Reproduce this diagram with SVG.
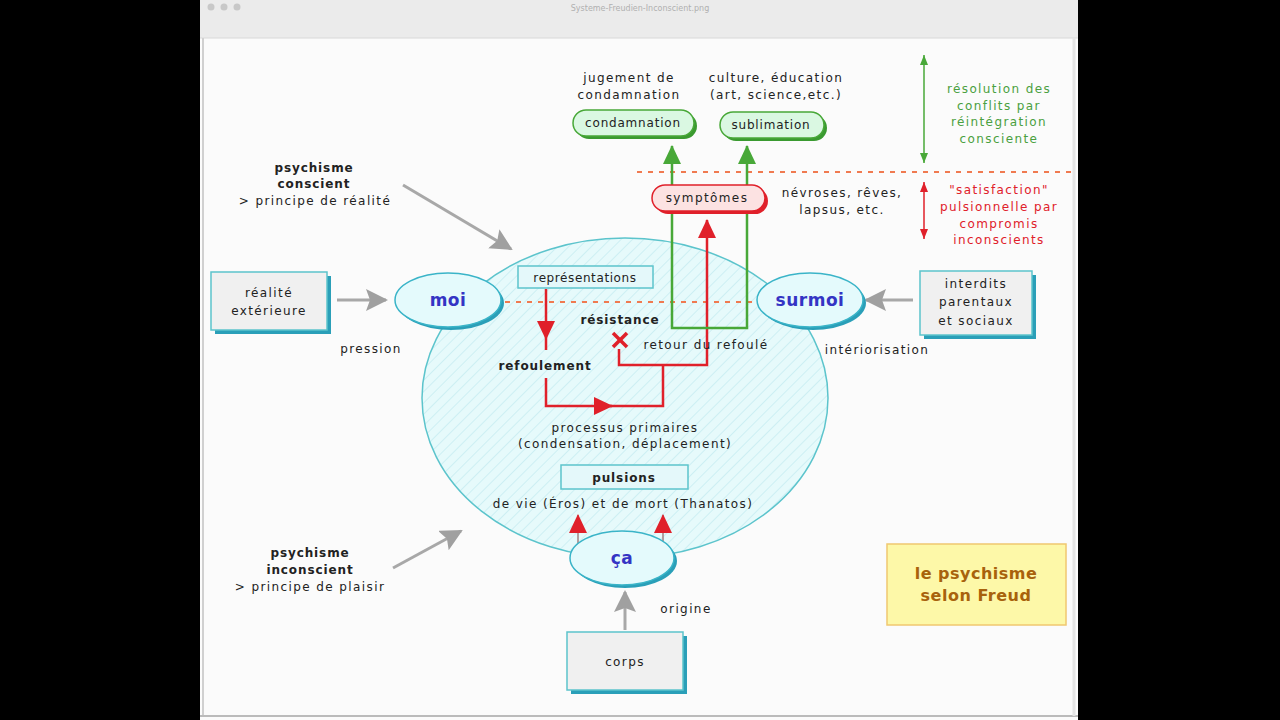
<svg xmlns="http://www.w3.org/2000/svg" width="1280" height="720" viewBox="0 0 1280 720">
<style>
text{font-family:"DejaVu Sans","Liberation Sans",sans-serif;font-size:12px;fill:#222;text-anchor:middle;letter-spacing:1.4px}
.b{font-weight:bold;letter-spacing:0.9px}
.big{font-weight:bold;font-size:17px;fill:#3434c4;letter-spacing:0.5px}
.g{fill:#4aa040}
.r{fill:#e0202a}
.box{fill:#f0f0f0;stroke:#5cc4cc;stroke-width:1.5}
.sh{fill:#2a9fb8}
.oval{fill:#e4fafc;stroke:#3ab4c8;stroke-width:1.5}
.lbl{fill:#e4f8fa;stroke:#5cc4cc;stroke-width:1.5}
.gray{stroke:#a8a8a8;stroke-width:3;fill:none}
.red{stroke:#e0202a;stroke-width:2.5;fill:none}
.grn{stroke:#48a838;stroke-width:2.5;fill:none}
.dash{stroke:#f07a50;stroke-width:2;stroke-dasharray:5 6;fill:none}
</style>
<defs>
<pattern id="hatch" width="8" height="8" patternUnits="userSpaceOnUse" patternTransform="rotate(45)">
<rect width="8" height="8" fill="#e6fafb"/>
<line x1="0" y1="0" x2="0" y2="8" stroke="#cdeff3" stroke-width="2"/>
</pattern>
<marker id="ag" markerUnits="userSpaceOnUse" markerWidth="24" markerHeight="24" refX="20" refY="11" orient="auto">
<path d="M0,0 L22,11 L0,22 L4,11 z" fill="#a0a0a0"/>
</marker>
<marker id="ar" markerUnits="userSpaceOnUse" markerWidth="22" markerHeight="20" refX="18" refY="9" orient="auto">
<path d="M0,0 L19,9 L0,18 z" fill="#e0202a"/>
</marker>
<marker id="agr" markerUnits="userSpaceOnUse" markerWidth="22" markerHeight="20" refX="18" refY="9" orient="auto-start-reverse">
<path d="M0,0 L19,9 L0,18 z" fill="#48a838"/>
</marker>
<marker id="sg" markerUnits="userSpaceOnUse" markerWidth="12" markerHeight="10" refX="10" refY="4" orient="auto-start-reverse">
<path d="M0,0 L10,4 L0,8 z" fill="#48a838"/>
</marker>
<marker id="sr" markerUnits="userSpaceOnUse" markerWidth="12" markerHeight="10" refX="10" refY="4" orient="auto-start-reverse">
<path d="M0,0 L10,4 L0,8 z" fill="#e0202a"/>
</marker>
</defs>

<rect width="1280" height="720" fill="#000"/>
<g id="window">
<rect x="200" y="0" width="878" height="720" fill="#fbfbfb"/>
<rect x="200" y="0" width="878" height="38" fill="#ebebeb"/>
<line x1="200" y1="38" x2="1078" y2="38" stroke="#d8d8d8"/>
<circle cx="211" cy="7" r="3.5" fill="#c8c8c8"/>
<circle cx="224" cy="7" r="3.5" fill="#c8c8c8"/>
<circle cx="237" cy="7" r="3.5" fill="#c8c8c8"/>
<text x="640" y="11" style="font-size:8px;fill:#b0b0b0;letter-spacing:0">Systeme-Freudien-Inconscient.png</text>
<line x1="203" y1="38" x2="203" y2="716" stroke="#d0d0d0" stroke-width="2"/>
<line x1="200" y1="716" x2="1078" y2="716" stroke="#bbb" stroke-width="2"/>
<line x1="1074" y1="38" x2="1074" y2="716" stroke="#e4e4e4" stroke-width="3"/>
</g>

<g id="psyche">
<ellipse cx="625" cy="398" rx="203" ry="160" fill="url(#hatch)" stroke="#5cc4cc" stroke-width="1.5"/>
</g>

<g id="connectors">
<line class="dash" x1="505" y1="302" x2="762" y2="302"/>
<line class="dash" x1="637" y1="172" x2="1072" y2="172"/>
<line class="gray" x1="337" y1="300" x2="386" y2="300" marker-end="url(#ag)"/>
<line class="gray" x1="913" y1="300" x2="866" y2="300" marker-end="url(#ag)"/>
<line class="gray" x1="625" y1="630" x2="625" y2="592" marker-end="url(#ag)"/>
<line class="gray" x1="403" y1="185" x2="511" y2="249" stroke-width="2" marker-end="url(#ag)"/>
<line class="gray" x1="393" y1="568" x2="461" y2="531" stroke-width="2" marker-end="url(#ag)"/>
<path class="red" d="M546,289 L546,339 L546,350" marker-mid="url(#ar)"/>
<path class="red" d="M546,378 V406 H612" marker-end="url(#ar)"/>
<path class="red" d="M610,406 H663 V365"/>
<path class="red" d="M619,349 V365 H707 V220" marker-end="url(#ar)"/>
<g stroke="#e0202a" stroke-width="3.5">
<line x1="613" y1="333" x2="627" y2="347"/>
<line x1="627" y1="333" x2="613" y2="347"/>
</g>
<path class="grn" d="M672,146 V328 H747 V146" marker-start="url(#agr)" marker-end="url(#agr)"/>
<line x1="924" y1="55" x2="924" y2="163" stroke="#48a838" stroke-width="1.5" marker-start="url(#sg)" marker-end="url(#sg)"/>
<line x1="924" y1="182" x2="924" y2="239" stroke="#e0202a" stroke-width="1.5" marker-start="url(#sr)" marker-end="url(#sr)"/>
<line x1="578" y1="550" x2="578" y2="515" stroke="#a08080" stroke-width="1.5" marker-end="url(#ar)"/>
<line x1="663" y1="550" x2="663" y2="515" stroke="#a08080" stroke-width="1.5" marker-end="url(#ar)"/>
</g>

<g id="moi">
<ellipse cx="451" cy="303" rx="53" ry="27" class="sh"/>
<ellipse cx="448" cy="300" rx="53" ry="27" class="oval"/>
<text x="448" y="306" class="big">moi</text>
</g>
<g id="surmoi">
<ellipse cx="813" cy="303" rx="53" ry="27" class="sh"/>
<ellipse cx="810" cy="300" rx="53" ry="27" class="oval"/>
<text x="810" y="306" class="big">surmoi</text>
</g>
<g id="ca">
<ellipse cx="625" cy="561" rx="52" ry="27" class="sh"/>
<ellipse cx="622" cy="558" rx="52" ry="27" class="oval"/>
<text x="622" y="564" class="big">ça</text>
</g>

<g id="realite">
<rect x="215" y="276" width="116" height="58" class="sh"/>
<rect x="211" y="272" width="116" height="58" class="box"/>
<text x="269" y="297">réalité</text>
<text x="269" y="315">extérieure</text>
</g>
<g id="interdits">
<rect x="924" y="275" width="112" height="64" class="sh"/>
<rect x="920" y="271" width="112" height="64" class="box"/>
<text x="976" y="288">interdits</text>
<text x="976" y="306">parentaux</text>
<text x="976" y="325">et sociaux</text>
</g>
<g id="corps">
<rect x="571" y="636" width="116" height="58" class="sh"/>
<rect x="567" y="632" width="116" height="58" class="box"/>
<text x="625" y="666">corps</text>
</g>

<g id="representations">
<rect x="518" y="266" width="135" height="22" class="lbl"/>
<text x="585" y="282" style="letter-spacing:0.6px">représentations</text>
</g>
<g id="pulsions">
<rect x="561" y="465" width="127" height="24" class="lbl"/>
<text x="624" y="482" class="b">pulsions</text>
</g>

<g id="symptomes">
<rect x="655" y="188" width="113" height="26" rx="13" fill="#e0202a"/>
<rect x="652" y="185" width="113" height="26" rx="13" fill="#fce2e2" stroke="#e0202a" stroke-width="1.5"/>
<text x="707" y="202">symptômes</text>
</g>
<g id="condamnation">
<rect x="576" y="113" width="121" height="26" rx="13" fill="#3a9a30"/>
<rect x="573" y="110" width="121" height="26" rx="13" fill="#daf8e2" stroke="#48a838" stroke-width="1.5"/>
<text x="633" y="127" style="letter-spacing:0.8px">condamnation</text>
</g>
<g id="sublimation">
<rect x="723" y="115" width="104" height="26" rx="13" fill="#3a9a30"/>
<rect x="720" y="112" width="104" height="26" rx="13" fill="#daf8e2" stroke="#48a838" stroke-width="1.5"/>
<text x="771" y="129" style="letter-spacing:0.8px">sublimation</text>
</g>

<g id="titre">
<rect x="887" y="544" width="179" height="81" fill="#fdf8a8" stroke="#f0c870" stroke-width="1.5"/>
<text x="976" y="579" class="b" style="font-size:16px;fill:#a8620c;letter-spacing:0.5px">le psychisme</text>
<text x="976" y="601" class="b" style="font-size:16px;fill:#a8620c;letter-spacing:0.5px">selon Freud</text>
</g>

<g id="labels">
<text x="629" y="82">jugement de</text>
<text x="629" y="99">condamnation</text>
<text x="776" y="82">culture, éducation</text>
<text x="776" y="99">(art, science,etc.)</text>
<text x="842" y="197">névroses, rêves,</text>
<text x="842" y="214">lapsus, etc.</text>
<text x="999" y="93" class="g">résolution des</text>
<text x="999" y="110" class="g">conflits par</text>
<text x="999" y="126" class="g">réintégration</text>
<text x="999" y="143" class="g">consciente</text>
<text x="999" y="194" class="r">"satisfaction"</text>
<text x="999" y="211" class="r">pulsionnelle par</text>
<text x="999" y="228" class="r">compromis</text>
<text x="999" y="244" class="r">inconscients</text>
<text x="314" y="172" class="b">psychisme</text>
<text x="314" y="188" class="b">conscient</text>
<text x="315" y="205">&gt; principe de réalité</text>
<text x="310" y="557" class="b">psychisme</text>
<text x="310" y="574" class="b">inconscient</text>
<text x="310" y="591">&gt; principe de plaisir</text>
<text x="371" y="353">pression</text>
<text x="877" y="354">intériorisation</text>
<text x="686" y="613">origine</text>
<text x="620" y="324" class="b">résistance</text>
<text x="545" y="370" class="b">refoulement</text>
<text x="706" y="349">retour du refoulé</text>
<text x="625" y="432">processus primaires</text>
<text x="625" y="448">(condensation, déplacement)</text>
<text x="623" y="508">de vie (Éros) et de mort (Thanatos)</text>
</g>
</svg>
